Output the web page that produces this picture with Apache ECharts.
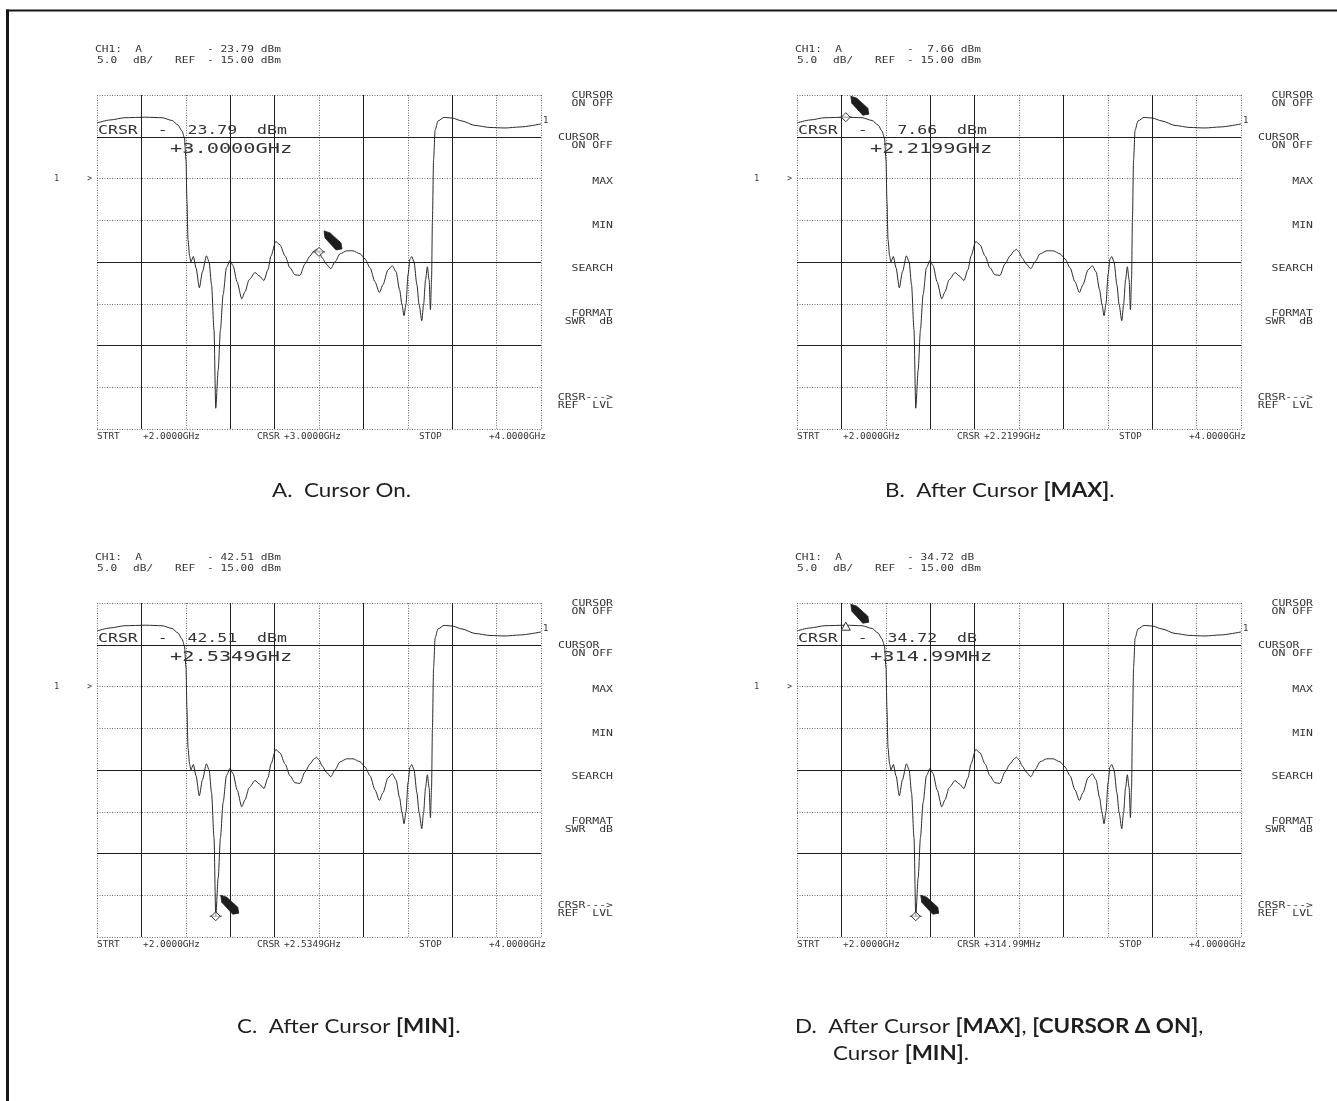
<!DOCTYPE html>
<html>
<head>
<meta charset="utf-8">
<script src="https://cdn.jsdelivr.net/npm/echarts@6/dist/echarts.min.js"></script>
<style>
  html, body { margin: 0; padding: 0; background: #fff; }
  #chart { width: 1337px; height: 1101px; }
</style>
</head>
<body>
<div id="chart"></div>
<script>
// Swept transmission of a 2.4–3.5 GHz band-pass filter (same sweep on all four screens)
const traceFreqGHz = [
  2.000, 2.059, 2.126, 2.2199, 2.293, 2.338, 2.365, 2.383, 2.394, 2.401,
  2.405, 2.410, 2.417, 2.423, 2.434, 2.446, 2.461, 2.475, 2.493, 2.505,
  2.516, 2.527, 2.5349, 2.546, 2.556, 2.568, 2.583, 2.599, 2.613, 2.631,
  2.652, 2.667, 2.685, 2.712, 2.730, 2.752, 2.770, 2.784, 2.805, 2.824,
  2.847, 2.869, 2.892, 2.914, 2.937, 2.960, 2.978, 2.989, 3.000, 3.014,
  3.032, 3.053, 3.072, 3.095, 3.125, 3.153, 3.185, 3.207, 3.230, 3.252,
  3.272, 3.288, 3.311, 3.330, 3.347, 3.363, 3.374, 3.383, 3.392, 3.401,
  3.410, 3.418, 3.428, 3.441, 3.451, 3.463, 3.471, 3.480, 3.488, 3.496,
  3.502, 3.507, 3.511, 3.516, 3.523, 3.536, 3.563, 3.599, 3.644, 3.703,
  3.770, 3.838, 3.905, 4.000
];
const traceLevelDbm = [
  -8.35, -7.99, -7.72, -7.66, -7.72, -8.05, -8.59, -9.31, -10.14, -12.78,
  -17.56, -22.34, -24.26, -24.98, -24.34, -25.69, -28.09, -26.17, -24.26, -24.98,
  -27.73, -33.11, -42.51, -37.89, -33.11, -28.92, -25.69, -24.82, -25.45, -27.37,
  -29.40, -28.56, -27.13, -26.26, -26.65, -27.21, -25.93, -24.26, -22.55, -22.94,
  -24.26, -25.69, -26.53, -26.61, -25.22, -24.26, -23.66, -23.48, -23.79, -24.50,
  -25.22, -25.81, -24.98, -24.02, -23.66, -23.66, -24.02, -24.62, -25.69, -27.37,
  -28.65, -27.73, -25.93, -25.45, -26.17, -28.33, -30.12, -31.44, -30.00, -26.53,
  -24.62, -24.34, -24.98, -27.73, -30.12, -32.03, -30.12, -27.13, -25.57, -27.13,
  -30.72, -27.13, -19.95, -12.78, -9.19, -8.11, -7.69, -7.75, -8.11, -8.65,
  -8.89, -8.95, -8.83, -8.47
];

// Screen scale: REF -15 dBm on the second graticule line, 5 dB/div
const freqStartGHz = 2.0, freqStopGHz = 4.0, freqStepGHz = 0.2;
const levelBottomDbm = -45, levelTopDbm = -5, levelStepDb = 5, refLevelDbm = -15;
// graticule lines the plotter drew solid (the rest are dotted)
const solidFreqLines = [2.2, 2.6, 2.8, 3.2, 3.6];
const solidLevelLines = [-10, -25, -35];

// Per-screen readouts
const headerReadouts = ['- 23.79 dBm', '-  7.66 dBm', '- 42.51 dBm', '- 34.72 dB'];
const refReadout = '- 15.00 dBm';
const crsrLevelText = ['CRSR  -  23.79  dBm', 'CRSR  -   7.66  dBm', 'CRSR  -  42.51  dBm', 'CRSR  -  34.72  dB'];
const crsrFreqText = ['+3.0000GHz', '+2.2199GHz', '+2.5349GHz', '+314.99MHz'];
const startLabel = '+2.0000GHz', stopLabel = '+4.0000GHz';
// cursor marks: [freq GHz, level dBm, kind]  kind 0 = cursor, 1 = delta reference
const cursorMarks = [
  [[3.0000, -23.79, 0]],
  [[2.2199, -7.66, 0]],
  [[2.5349, -42.51, 0]],
  [[2.2199, -7.66, 1], [2.5349, -42.51, 0]]
];
const softkeyLabels = [
  ['CURSOR', 'ON OFF'],
  ['CURSOR', 'ON OFF'],
  ['MAX'],
  ['MIN'],
  ['SEARCH'],
  ['FORMAT', 'SWR  dB'],
  ['CRSR--->', 'REF  LVL']
];
const captionRich = [
  ['{n|A.  Cursor On.}'],
  ['{n|B.  After Cursor }{b|[MAX]}{n|.}'],
  ['{n|C.  After Cursor }{b|[MIN]}{n|.}'],
  ['{n|D.  After Cursor }{b|[MAX]}{n|, }{b|[CURSOR Δ ON]}{n|,}', '{n|Cursor }{b|[MIN]}{n|.}']
];

// ---- layout ----
const panelOrigins = [[0, 0], [700, 0], [0, 508], [700, 508]];
const gridBox = { left: 97, top: 95, width: 444, height: 334 };
const softkeyY = [[96, 104], [138, 146], [182], [226], [269], [314, 322], [398, 406]];
const captionPos = [[[272, 491]], [[885, 491]], [[237, 1027]], [[795, 1027], [833, 1054]]];
const MONO = "'DejaVu Sans Mono'";
const INK = '#333';

function plotText(x, y, text, size, stretch, align) {
  return {
    type: 'text', x: x, y: y, scaleX: stretch, silent: true, z: 20,
    style: { text: text, fill: INK, font: size + 'px ' + MONO, align: align || 'left', verticalAlign: 'middle' }
  };
}

const trace = traceFreqGHz.map((f, i) => [f, traceLevelDbm[i]]);

// pointer blob drawn up and to the right of each cursor mark
const blobShape = [[5, -21], [11, -19], [22, -9], [23, -3], [17, -2], [6, -14]];

function renderMark(params, api) {
  const p = api.coord([api.value(0), api.value(1)]);
  const kind = api.value(2);
  const x = p[0], y = p[1];
  const children = [{
    type: 'polygon',
    shape: { points: blobShape.map(d => [x + d[0], y + d[1]]) },
    style: { fill: '#1d1d1d', stroke: '#1d1d1d', lineWidth: 0.8, lineJoin: 'round' }
  }];
  if (kind === 0) {
    children.push({ type: 'line', shape: { x1: x - 6, y1: y, x2: x + 6, y2: y }, style: { stroke: INK, lineWidth: 1 } });
    children.push({
      type: 'polygon', shape: { points: [[x, y - 4.5], [x + 4.5, y], [x, y + 4.5], [x - 4.5, y]] },
      style: { fill: 'rgba(255,255,255,0.6)', stroke: INK, lineWidth: 1 }
    });
  } else {
    children.push({
      type: 'polygon', shape: { points: [[x, y - 3], [x + 4.5, y + 5], [x - 4.5, y + 5]] },
      style: { fill: '#fff', stroke: INK, lineWidth: 1 }
    });
  }
  return { type: 'group', children: children };
}

const grids = [], xAxes = [], yAxes = [], series = [], graphics = [];

panelOrigins.forEach(([ox, oy], i) => {
  grids.push({ left: gridBox.left + ox, top: gridBox.top + oy, width: gridBox.width, height: gridBox.height });
  xAxes.push({
    gridIndex: i, type: 'value', min: freqStartGHz, max: freqStopGHz, interval: freqStepGHz,
    axisLine: { show: false }, axisTick: { show: false }, axisLabel: { show: false },
    splitLine: { show: true, lineStyle: { type: [1, 1.5], color: '#6a6a6a', width: 1 } }
  });
  yAxes.push({
    gridIndex: i, type: 'value', min: levelBottomDbm, max: levelTopDbm, interval: levelStepDb,
    axisLine: { show: false }, axisTick: { show: false },
    axisLabel: {
      show: true, margin: 5,
      formatter: v => (Math.abs(v - refLevelDbm) < 1e-6 ? '{one|1}{gt|>}' : ''),
      rich: {
        one: { width: 33, align: 'left', fontFamily: MONO, fontSize: 8, color: INK },
        gt: { fontFamily: MONO, fontSize: 8, color: INK }
      }
    },
    splitLine: { show: true, lineStyle: { type: [1, 1.5], color: '#6a6a6a', width: 1 } }
  });
  series.push({
    type: 'line', xAxisIndex: i, yAxisIndex: i, data: trace,
    showSymbol: false, symbol: 'none', smooth: 0.25, smoothMonotone: 'x',
    lineStyle: { color: '#2a2a2a', width: 1 },
    endLabel: { show: true, formatter: '1', color: INK, fontFamily: MONO, fontSize: 9, distance: 2, offset: [0, -3] },
    markLine: {
      silent: true, symbol: ['none', 'none'], animation: false,
      label: { show: false },
      lineStyle: { type: 'solid', color: '#1f1f1f', width: 1 },
      emphasis: { disabled: true },
      data: solidFreqLines.map(f => ({ xAxis: f })).concat(solidLevelLines.map(v => ({ yAxis: v })))
    },
    z: 3
  });
  series.push({
    type: 'custom', xAxisIndex: i, yAxisIndex: i, data: cursorMarks[i],
    renderItem: renderMark, z: 5, silent: true
  });

  // instrument header
  graphics.push(plotText(95 + ox, 50 + oy, 'CH1:  A', 9, 1.24));
  graphics.push(plotText(207 + ox, 50 + oy, headerReadouts[i], 9, 1.24));
  graphics.push(plotText(97 + ox, 61 + oy, '5.0', 9, 1.24));
  graphics.push(plotText(133 + ox, 61 + oy, 'dB/', 9, 1.24));
  graphics.push(plotText(175 + ox, 61 + oy, 'REF', 9, 1.24));
  graphics.push(plotText(207 + ox, 61 + oy, refReadout, 9, 1.24));

  // large cursor readout inside the graticule
  graphics.push(plotText(98 + ox, 131 + oy, crsrLevelText[i], 13, 1.27));
  graphics.push(plotText(170 + ox, 149 + oy, crsrFreqText[i], 14, 1.45));

  // sweep annotation under the graticule
  graphics.push(plotText(97 + ox, 437 + oy, 'STRT', 9, 1.05));
  graphics.push(plotText(143 + ox, 437 + oy, startLabel, 9, 1.05));
  graphics.push(plotText(257 + ox, 437 + oy, 'CRSR', 9, 1.05));
  graphics.push(plotText(284 + ox, 437 + oy, crsrFreqText[i], 9, 1.05));
  graphics.push(plotText(419 + ox, 437 + oy, 'STOP', 9, 1.05));
  graphics.push(plotText(546 + ox, 437 + oy, stopLabel, 9, 1.05, 'right'));

  // softkey menu
  softkeyLabels.forEach((lines, k) => {
    lines.forEach((s, j) => {
      const y = softkeyY[k][j] + oy;
      if (k === 1 && j === 0) graphics.push(plotText(558 + ox, y, s, 8.5, 1.35));
      else graphics.push(plotText(613 + ox, y, s, 8.5, 1.35, 'right'));
    });
  });

  // caption
  captionRich[i].forEach((t, j) => {
    const pos = captionPos[i][j];
    graphics.push({
      type: 'text', x: pos[0], y: pos[1], scaleX: 1.12, silent: true, z: 20,
      style: {
        text: t, verticalAlign: 'middle', align: 'left',
        rich: {
          n: { font: "20px Lato", fill: '#1e1e1e' },
          b: { font: "bold 20px Lato", fill: '#1e1e1e' }
        }
      }
    });
  });
});

// page frame
graphics.push({ type: 'line', silent: true, shape: { x1: 6, y1: 10.5, x2: 1337, y2: 10.5 }, style: { stroke: '#151515', lineWidth: 2 } });
graphics.push({ type: 'line', silent: true, shape: { x1: 7.5, y1: 9.5, x2: 7.5, y2: 1101 }, style: { stroke: '#151515', lineWidth: 3 } });

const chart = echarts.init(document.getElementById('chart'), null, { renderer: 'canvas' });
chart.setOption({
  backgroundColor: '#fff',
  animation: false,
  grid: grids,
  xAxis: xAxes,
  yAxis: yAxes,
  series: series,
  graphic: { elements: graphics }
});
</script>
</body>
</html>
